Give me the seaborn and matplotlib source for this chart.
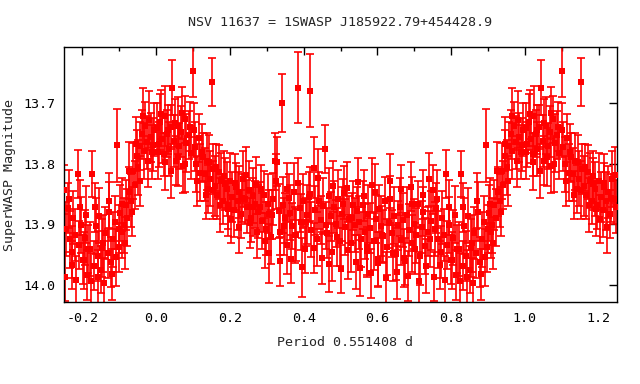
import matplotlib
matplotlib.use("Agg")
import matplotlib.pyplot as plt
import seaborn as sns
import pandas as pd
import numpy as np
from matplotlib.ticker import MultipleLocator, FormatStrFormatter

# Phase-folded SuperWASP light curve (phase 0..1)
phase = [
    0.002, 0.007, 0.011, 0.016, 0.021, 0.025, 0.030, 0.034, 0.039, 0.044,
    0.049, 0.053, 0.058, 0.062, 0.067, 0.072, 0.077, 0.082, 0.088, 0.094,
    0.100, 0.104, 0.109, 0.115, 0.120, 0.126,
    0.132, 0.137, 0.141, 0.146, 0.151, 0.155, 0.160, 0.166, 0.171, 0.176,
    0.181, 0.186,
    0.191, 0.196, 0.201, 0.206, 0.211, 0.216, 0.221, 0.226, 0.231, 0.236,
    0.241, 0.246, 0.251, 0.256, 0.262, 0.267, 0.272, 0.277,
    0.282, 0.287, 0.292, 0.297, 0.302, 0.307, 0.312, 0.317, 0.322, 0.327,
    0.332, 0.337, 0.340, 0.344, 0.349, 0.354, 0.359, 0.364, 0.369, 0.374,
    0.379, 0.384, 0.389, 0.394, 0.399, 0.404, 0.409, 0.414, 0.416, 0.421,
    0.427, 0.432, 0.437, 0.442, 0.447, 0.452, 0.458, 0.463, 0.468, 0.473,
    0.478, 0.483, 0.488, 0.493, 0.498, 0.503, 0.508, 0.513, 0.518, 0.523,
    0.529, 0.534, 0.539, 0.545,
    0.551, 0.556, 0.560, 0.566, 0.571, 0.575, 0.580, 0.586, 0.590, 0.595,
    0.601, 0.605, 0.610, 0.616, 0.620, 0.625, 0.631, 0.635, 0.640, 0.646,
    0.650, 0.655, 0.661, 0.665, 0.670, 0.676, 0.680, 0.685, 0.691, 0.695,
    0.700, 0.706, 0.710, 0.715, 0.721, 0.725, 0.730, 0.736, 0.740, 0.745,
    0.750, 0.756, 0.760, 0.765, 0.771, 0.775, 0.780, 0.787, 0.790, 0.795,
    0.801, 0.806, 0.811, 0.816,
    0.821, 0.827, 0.831, 0.836, 0.841, 0.846, 0.851, 0.856, 0.861, 0.868,
    0.873, 0.878, 0.883, 0.888, 0.894, 0.898, 0.903, 0.908,
    0.912, 0.917, 0.922, 0.927, 0.932, 0.937, 0.942, 0.947, 0.952, 0.957,
    0.962, 0.966, 0.971, 0.976, 0.981, 0.985, 0.990, 0.995,
]
mag = [
    13.742, 13.768, 13.731, 13.759, 13.785, 13.722, 13.751, 13.776, 13.740, 13.675,
    13.763, 13.795, 13.738, 13.771, 13.748, 13.804, 13.727, 13.766, 13.753, 13.782,
    13.648, 13.772, 13.801, 13.758, 13.815, 13.790,
    13.818, 13.796, 13.842, 13.825, 13.666, 13.809, 13.837, 13.851, 13.814, 13.828,
    13.861, 13.833,
    13.842, 13.868, 13.829, 13.855, 13.876, 13.838, 13.862, 13.847, 13.883, 13.826,
    13.858, 13.871, 13.844, 13.889, 13.853, 13.867, 13.836, 13.879,
    13.872, 13.894, 13.851, 13.907, 13.866, 13.883, 13.921, 13.859, 13.796, 13.797,
    13.878, 13.912, 13.700, 13.868, 13.889, 13.934, 13.857, 13.881, 13.903, 13.846,
    13.918, 13.675, 13.873, 13.896, 13.862, 13.941, 13.884, 13.855, 13.680, 13.909,
    13.807, 13.877, 13.924, 13.861, 13.893, 13.870, 13.776, 13.915, 13.853, 13.887,
    13.946, 13.872, 13.899, 13.858, 13.927, 13.883, 13.866, 13.905, 13.841, 13.892,
    13.931, 13.869, 13.901, 13.878,
    13.897, 13.925, 13.868, 13.912, 13.944, 13.883, 13.906, 13.835, 13.928, 13.891,
    13.957, 13.874, 13.903, 13.919, 13.862, 13.937, 13.898, 13.829, 13.915, 13.886,
    13.949, 13.902, 13.871, 13.926, 13.893, 13.961, 13.884, 13.910, 13.838, 13.931,
    13.899, 13.918, 13.867, 13.952, 13.905, 13.879, 13.936, 13.912, 13.826, 13.894,
    13.843, 13.908, 13.873, 13.925, 13.967, 13.889, 13.917, 13.817, 13.934, 13.901,
    13.958, 13.922, 13.884, 13.941,
    13.941, 13.817, 13.968, 13.903, 13.952, 13.886, 13.975, 13.931, 13.914, 13.948,
    13.879, 13.962, 13.925, 13.897, 13.770, 13.938, 13.881, 13.912,
    13.902, 13.868, 13.889, 13.846, 13.861, 13.812, 13.835, 13.788, 13.806, 13.771,
    13.752, 13.779, 13.738, 13.765, 13.728, 13.757, 13.781, 13.744,
]
mag_err = [
    0.041, 0.037, 0.046, 0.040, 0.035, 0.049, 0.039, 0.044, 0.036, 0.045,
    0.043, 0.040, 0.047, 0.038, 0.042, 0.045, 0.039, 0.048, 0.040, 0.044,
    0.042, 0.040, 0.045, 0.039, 0.047, 0.041,
    0.043, 0.047, 0.039, 0.045, 0.040, 0.041, 0.049, 0.040, 0.044, 0.046,
    0.039, 0.043,
    0.044, 0.040, 0.047, 0.041, 0.045, 0.039, 0.048, 0.043, 0.040, 0.046,
    0.041, 0.044, 0.049, 0.040, 0.045, 0.039, 0.047, 0.043,
    0.041, 0.046, 0.039, 0.044, 0.049, 0.040, 0.045, 0.043, 0.047, 0.040,
    0.044, 0.039, 0.048, 0.046, 0.041, 0.048, 0.040, 0.045, 0.038, 0.047,
    0.043, 0.058, 0.040, 0.046, 0.044, 0.039, 0.048, 0.041, 0.060, 0.045,
    0.050, 0.040, 0.044, 0.047, 0.039, 0.046, 0.040, 0.041, 0.045, 0.040,
    0.047, 0.043, 0.039, 0.048, 0.041, 0.045, 0.040, 0.046, 0.044, 0.039,
    0.047, 0.041, 0.045, 0.040,
    0.043, 0.046, 0.040, 0.045, 0.039, 0.048, 0.041, 0.044, 0.047, 0.040,
    0.045, 0.039, 0.049, 0.043, 0.040, 0.046, 0.041, 0.044, 0.039, 0.047,
    0.043, 0.040, 0.048, 0.041, 0.045, 0.039, 0.046, 0.043, 0.040, 0.047,
    0.041, 0.045, 0.039, 0.048, 0.043, 0.040, 0.046, 0.041, 0.044, 0.049,
    0.040, 0.045, 0.041, 0.047, 0.039, 0.044, 0.043, 0.040, 0.040, 0.046,
    0.041, 0.045, 0.047, 0.040,
    0.044, 0.038, 0.040, 0.046, 0.041, 0.045, 0.039, 0.047, 0.043, 0.040,
    0.048, 0.041, 0.045, 0.044, 0.060, 0.040, 0.046, 0.043,
    0.045, 0.041, 0.047, 0.040, 0.044, 0.046, 0.039, 0.043, 0.045, 0.040,
    0.041, 0.046, 0.039, 0.044, 0.047, 0.040, 0.045, 0.043,
]

# second batch of points (other nights), same phase range
phase_b = [
    0.004, 0.014, 0.023, 0.032, 0.041, 0.051, 0.060, 0.070, 0.079, 0.091,
    0.102, 0.112, 0.123, 0.134, 0.144, 0.153, 0.163, 0.174, 0.184, 0.194,
    0.204, 0.214, 0.224, 0.234, 0.244, 0.254, 0.264, 0.274, 0.285, 0.295,
    0.305, 0.315, 0.325, 0.335, 0.346, 0.356, 0.366, 0.376, 0.386, 0.396,
    0.406, 0.418, 0.428, 0.438, 0.449, 0.460, 0.470, 0.480, 0.490, 0.500,
    0.510, 0.520, 0.531, 0.541, 0.548,
    0.553, 0.563, 0.573, 0.583, 0.593, 0.603, 0.613, 0.623, 0.633, 0.643,
    0.653, 0.663, 0.673, 0.683, 0.693, 0.703, 0.713, 0.723, 0.733, 0.743,
    0.753, 0.763, 0.773, 0.783, 0.793, 0.803, 0.813,
    0.824, 0.833, 0.843, 0.853, 0.859, 0.871, 0.881, 0.891, 0.900, 0.906,
    0.915, 0.925, 0.934, 0.945, 0.955, 0.964, 0.978, 0.992,
]
mag_b = [
    13.781, 13.719, 13.797, 13.744, 13.812, 13.733, 13.789, 13.716, 13.801, 13.739,
    13.745, 13.829, 13.781, 13.852, 13.797, 13.843, 13.806, 13.868, 13.821, 13.874,
    13.891, 13.832, 13.904, 13.857, 13.819, 13.898, 13.871, 13.912, 13.842, 13.927,
    13.948, 13.884, 13.829, 13.961, 13.903, 13.842, 13.957, 13.918, 13.832, 13.971,
    13.896, 13.850, 13.939, 13.823, 13.955, 13.902, 13.966, 13.837, 13.921, 13.974,
    13.848, 13.943, 13.889, 13.962, 13.831,
    13.972, 13.853, 13.938, 13.981, 13.846, 13.963, 13.917, 13.988, 13.859, 13.947,
    13.979, 13.842, 13.955, 13.985, 13.867, 13.940, 13.993, 13.851, 13.969, 13.924,
    13.986, 13.858, 13.945, 13.991, 13.872, 13.959, 13.983,
    13.994, 13.872, 13.986, 13.939, 13.997, 13.861, 13.982, 13.954, 13.908, 13.867,
    13.931, 13.812, 13.879, 13.768, 13.829, 13.721, 13.796, 13.769,
]
mag_err_b = [
    0.044, 0.040, 0.047, 0.041, 0.045, 0.039, 0.048, 0.042, 0.046, 0.040,
    0.045, 0.041, 0.047, 0.040, 0.044, 0.048, 0.039, 0.045, 0.042, 0.046,
    0.040, 0.047, 0.043, 0.039, 0.046, 0.041, 0.048, 0.044, 0.040, 0.045,
    0.049, 0.041, 0.045, 0.040, 0.047, 0.043, 0.039, 0.046, 0.042, 0.048,
    0.040, 0.045, 0.041, 0.047, 0.043, 0.039, 0.046, 0.042, 0.048, 0.040,
    0.044, 0.047, 0.041, 0.045, 0.040,
    0.046, 0.042, 0.048, 0.040, 0.045, 0.041, 0.047, 0.043, 0.039, 0.046,
    0.044, 0.040, 0.048, 0.041, 0.045, 0.042, 0.047, 0.040, 0.044, 0.046,
    0.041, 0.048, 0.043, 0.039, 0.045, 0.047, 0.041,
    0.046, 0.040, 0.044, 0.048, 0.041, 0.045, 0.042, 0.047, 0.040, 0.044,
    0.043, 0.047, 0.040, 0.045, 0.041, 0.046, 0.042, 0.044,
]

x_ticks = [-0.2, 0.0, 0.2, 0.4, 0.6, 0.8, 1.0, 1.2]
y_ticks = [13.7, 13.8, 13.9, 14.0]

title = "NSV 11637 = 1SWASP J185922.79+454428.9"
x_label = "Period 0.551408 d"
y_label = "SuperWASP Magnitude"

# Estilo
sns.set_theme(style="white")
plt.rcParams['font.family'] = ['DejaVu Sans Mono']
plt.rcParams['font.size'] = 9.6

df = pd.concat([
    pd.DataFrame({'phase': phase, 'mag': mag, 'err': mag_err}),
    pd.DataFrame({'phase': phase_b, 'mag': mag_b, 'err': mag_err_b}),
], ignore_index=True)
# repetir fase: 0.75..1 -> -0.25..0 y 0..0.25 -> 1..1.25
folded = pd.concat([
    df[df.phase >= 0.75].assign(phase=lambda d: d.phase - 1),
    df,
    df[df.phase <= 0.25].assign(phase=lambda d: d.phase + 1),
], ignore_index=True)

fig = plt.figure(figsize=(6.4, 3.84), dpi=100)
ax = fig.add_axes([64 / 640, 1 - 302 / 384, 553 / 640, 255 / 384])

ax.errorbar(folded.phase, folded.mag, yerr=folded.err, fmt='none',
            ecolor='#ff0000', elinewidth=1.2, capsize=2.8, capthick=1.2, zorder=2)
sns.scatterplot(data=folded, x='phase', y='mag', marker='s', s=17,
                color='#ff0000', edgecolor='#ff0000', linewidth=0, ax=ax, zorder=3)

ax.set_xlim(-0.25, 1.25)
ax.set_ylim(14.028, 13.608)
ax.set_xticks(x_ticks)
ax.set_yticks(y_ticks)
ax.xaxis.set_major_formatter(FormatStrFormatter('%.1f'))
ax.yaxis.set_major_formatter(FormatStrFormatter('%.1f'))
ax.xaxis.set_minor_locator(MultipleLocator(0.1))
ax.tick_params(which='major', direction='in', top=True, right=True,
               length=6, width=1, colors='black', labelsize=9.6)
ax.tick_params(axis='x', which='major', pad=7)
ax.tick_params(axis='y', which='major', pad=6)
ax.tick_params(which='minor', direction='in', top=True, right=False,
               length=3, width=1, colors='black')
ax.tick_params(axis='y', which='minor', left=False, right=False)
for s in ax.spines.values():
    s.set_color('black')
    s.set_linewidth(1)
ax.set_xlabel('')
ax.set_ylabel('')
ax.grid(False)

fig.text(340 / 640, 1 - 22 / 384, title, ha='center', va='center', fontsize=9.6)
fig.text(345 / 640, 1 - 343 / 384, x_label, ha='center', va='center', fontsize=9.6)
fig.text(10 / 640, 1 - 175 / 384, y_label, ha='center', va='center',
         rotation=90, fontsize=9.6)

plt.savefig('out.png', dpi=100)
plt.close()
